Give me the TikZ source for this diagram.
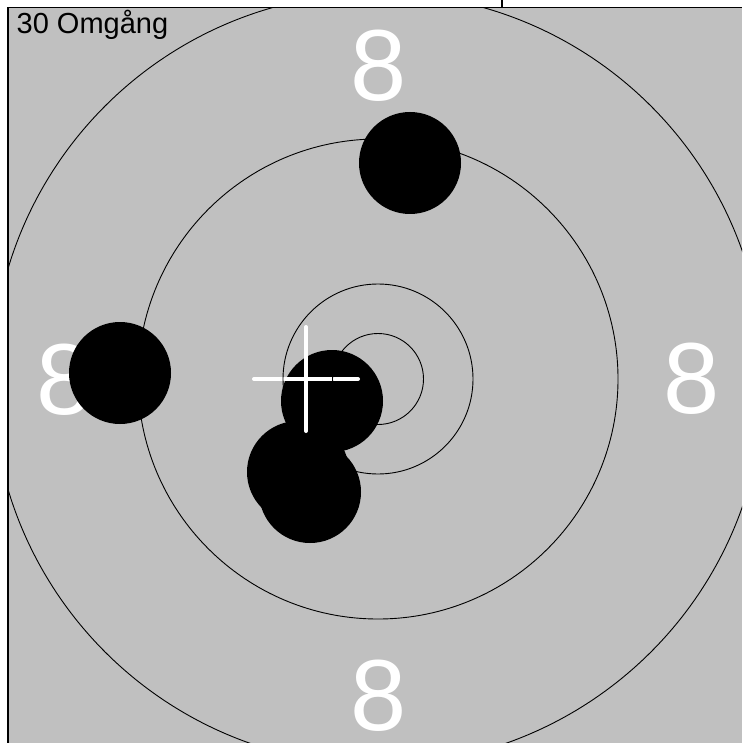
\documentclass[tikz,border=0pt]{standalone}
\usepackage{fontspec}
\setmainfont{Liberation Sans}
\usetikzlibrary{positioning}
\definecolor{targetgray}{RGB}{192,192,192}

\begin{document}
\begin{tikzpicture}[x=1pt,y=-1pt]
	
	% 定义样式
	\tikzset{
		ring/.style = {draw, line width=0.9pt},
		shot/.style = {
			circle, fill=black,
			minimum size = 102pt,
			inner sep=0pt
		},
		score/.style = {
			text=white, inner sep=0pt,
			font=\fontsize{101}{110}\selectfont
		},
		aimcross/.style = {draw=white, line width=4pt, line cap=round}
	}
	
	% 参数设置
	\def \cx {378}
	\def \cy {379}
	\def \armlen {52pt}
	
	\useasboundingbox (0,0) rectangle (742,743);
	
	% 边框
	\draw[line width=1.3pt] (8,743) -- (8,7.5) -- (742,7.5);
	\draw[line width=1.3pt] (502,0) -- (502,7.5);
	
	% 靶面
	\fill[targetgray] (8.7,8.2) rectangle (742,743);
	
	\begin{scope}
		\clip (8.7,8.2) rectangle (742,743);
		
		% 环上的数字
		\node[score] (top8) at (378.5,66) {8};
		\node[score] (left8) at (65,379.5) {8};
		\node[score] (right8) at (691.5,379) {8};
		\node[score] (bottom8) at (379,696) {8};
		
		% 弹孔
		\node[shot] (s1) at (410,163) {};
		\node[shot] (s2) at (120,373) {};
		\node[shot] (s3) at (332,401) {};
		\node[shot] (s4) at (298,472) {};
		\node[shot] (s5) at (310,492) {};
		
		% 平均弹着点
		\coordinate (mpi) at (306,379);
		\draw[aimcross] ([xshift=-\armlen]mpi) -- ([xshift=\armlen]mpi);
		\draw[aimcross] ([yshift=\armlen]mpi) -- ([yshift=-\armlen]mpi);
		
		% 环线
		\foreach \r in {45.5,95,240,386} {
			\draw[ring] (\cx,\cy) circle[radius=\r pt];
		}
	\end{scope}
	
	\node[anchor=base west, inner sep=0pt, font=\fontsize{29}{34}\selectfont]
		(title) at (16.5,34) {30 Omgång};
	
\end{tikzpicture}
\end{document}
